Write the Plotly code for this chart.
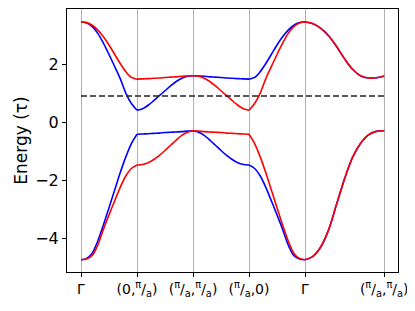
import math
import plotly.graph_objects as go

# high-symmetry points along path (units of pi/a path length)
kpath_labels = ["Γ", "(0,<sup>π</sup>/<sub>a</sub>)", "(<sup>π</sup>/<sub>a</sub>,<sup>π</sup>/<sub>a</sub>)",
                "(<sup>π</sup>/<sub>a</sub>,0)", "Γ", "(<sup>π</sup>/<sub>a</sub>,<sup>π</sup>/<sub>a</sub>)"]
kpath_pos = [0, 1, 2, 3, 4, 4 + math.sqrt(2)]

# fractional sample positions along each leg
t_leg = [0, 0.1, 0.2, 0.3, 0.4, 0.5, 0.6, 0.7, 0.8, 0.9, 1.0]

fermi_level = 0.9

# band energies per leg (5 legs: Γ-X, X-M, M-X', X'-Γ, Γ-M)
upper_blue = [
    [3.45, 3.42, 3.29, 3.06, 2.72, 2.33, 1.92, 1.50, 1.00, 0.64, 0.41],
    [0.41, 0.46, 0.58, 0.74, 0.91, 1.08, 1.25, 1.40, 1.51, 1.58, 1.60],
    [1.60, 1.59, 1.58, 1.56, 1.55, 1.54, 1.52, 1.51, 1.50, 1.49, 1.48],
    [1.48, 1.54, 1.74, 2.02, 2.34, 2.66, 2.94, 3.17, 3.34, 3.43, 3.45],
    [3.45, 3.39, 3.23, 2.97, 2.60, 2.18, 1.82, 1.60, 1.52, 1.53, 1.59],
]
upper_red = [
    [3.45, 3.43, 3.34, 3.17, 2.94, 2.66, 2.34, 2.02, 1.74, 1.54, 1.48],
    [1.48, 1.49, 1.50, 1.51, 1.52, 1.54, 1.55, 1.56, 1.58, 1.59, 1.60],
    [1.60, 1.58, 1.51, 1.40, 1.25, 1.08, 0.91, 0.74, 0.58, 0.46, 0.41],
    [0.41, 0.64, 1.00, 1.50, 1.92, 2.33, 2.72, 3.06, 3.29, 3.42, 3.45],
    [3.45, 3.39, 3.23, 2.97, 2.60, 2.18, 1.82, 1.60, 1.52, 1.53, 1.59],
]
lower_blue = [
    [-4.75, -4.70, -4.52, -4.10, -3.55, -2.95, -2.35, -1.75, -1.20, -0.74, -0.42],
    [-0.42, -0.41, -0.40, -0.39, -0.38, -0.36, -0.35, -0.34, -0.33, -0.31, -0.30],
    [-0.30, -0.35, -0.46, -0.62, -0.80, -0.98, -1.15, -1.29, -1.40, -1.46, -1.48],
    [-1.48, -1.60, -1.86, -2.25, -2.72, -3.20, -3.70, -4.24, -4.60, -4.72, -4.75],
    [-4.75, -4.63, -4.30, -3.70, -2.82, -1.95, -1.22, -0.74, -0.44, -0.32, -0.30],
]
lower_red = [
    [-4.75, -4.72, -4.60, -4.24, -3.70, -3.20, -2.72, -2.25, -1.86, -1.60, -1.48],
    [-1.48, -1.46, -1.40, -1.29, -1.15, -0.98, -0.80, -0.62, -0.46, -0.35, -0.30],
    [-0.30, -0.31, -0.33, -0.34, -0.35, -0.36, -0.38, -0.39, -0.40, -0.41, -0.42],
    [-0.42, -0.74, -1.20, -1.75, -2.35, -2.95, -3.55, -4.10, -4.52, -4.70, -4.75],
    [-4.75, -4.63, -4.30, -3.70, -2.82, -1.95, -1.22, -0.74, -0.44, -0.32, -0.30],
]

fig = go.Figure()

def add_band(legs, color):
    for i, vals in enumerate(legs):
        a, b = kpath_pos[i], kpath_pos[i + 1]
        xs = [a + t * (b - a) for t in t_leg]
        fig.add_trace(go.Scatter(x=xs, y=vals, mode="lines",
                                 line=dict(color=color, width=1.6, shape="spline", smoothing=0.9),
                                 showlegend=False, hoverinfo="skip"))

add_band(upper_blue, "#0000ff")
add_band(lower_blue, "#0000ff")
add_band(upper_red, "#ff0000")
add_band(lower_red, "#ff0000")

fig.add_trace(go.Scatter(x=[kpath_pos[0], kpath_pos[-1]], y=[fermi_level, fermi_level], mode="lines",
                         line=dict(color="#222222", width=1.5, dash="6px,3px"),
                         showlegend=False, hoverinfo="skip"))

# page body has an 8px margin, so the figure is offset by 8px
fig.update_layout(
    width=407, height=303,
    margin=dict(l=59, r=17, t=1, b=39),
    paper_bgcolor="white", plot_bgcolor="white",
    font=dict(family="DejaVu Sans", size=15, color="black"),
)
fig.update_xaxes(
    range=[-0.25, 5.66], tickmode="array", tickvals=kpath_pos, ticktext=kpath_labels,
    showgrid=True, gridcolor="#b0b0b0", gridwidth=1, zeroline=False,
    showline=True, linecolor="black", linewidth=1, mirror=True,
    ticks="outside", ticklen=4, tickcolor="black", tickfont=dict(size=14),
)
fig.update_yaxes(
    range=[-5.17, 3.9], tickvals=[-4, -2, 0, 2], ticktext=["−4", "−2", "0", "2"],
    showgrid=False, zeroline=False,
    showline=True, linecolor="black", linewidth=1, mirror=True,
    ticks="outside", ticklen=4, tickcolor="black", tickfont=dict(size=16),
    title=dict(text="Energy (τ)", font=dict(size=17), standoff=3),
)

fig.write_html("out.html")
